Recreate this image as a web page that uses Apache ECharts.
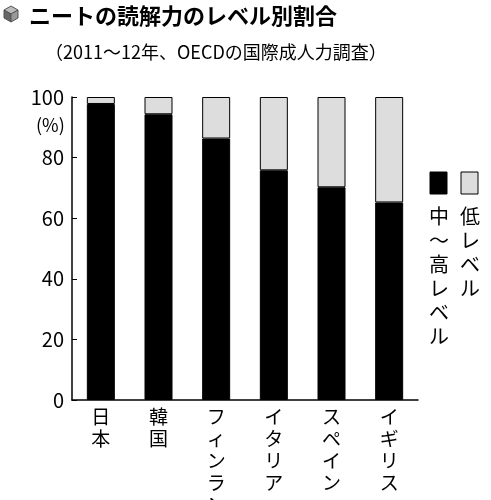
<!DOCTYPE html>
<html><head><meta charset="utf-8">
<script src="https://cdn.jsdelivr.net/npm/echarts@6/dist/echarts.min.js"></script>
<style>body{margin:0;background:#fff}#c{width:491px;height:500px}</style></head>
<body><div id="c"></div>
<script>
const categories = ['日本','韓国','フィンランド','イタリア','スペイン','イギリス'];
const midHigh = [97.7, 94.3, 86.3, 75.8, 70.2, 65.2];
const low = midHigh.map(v => +(100 - v).toFixed(1));
const yTicks = [0,20,40,60,80,100];
const font = '"Noto Sans CJK JP", sans-serif';
const vert = s => s.split('').join('\n');
const chart = echarts.init(document.getElementById('c'));
chart.setOption({
  animation:false,
  textStyle:{fontFamily:font,color:'#000'},
  title:[
    {text:'ニートの読解力のレベル別割合',left:24,top:0,textStyle:{fontFamily:font,fontSize:22,fontWeight:'bold',color:'#000'}},
    {text:'（2011～12年、OECDの国際成人力調査）',left:40,top:38,textStyle:{fontFamily:font,fontSize:18,fontWeight:'normal',color:'#000'}}
  ],
  graphic:[
    {type:'polygon',shape:{points:[[4,10],[11,6],[18,10],[11,14]]},style:{fill:'#bbb',stroke:'#555'}},
    {type:'polygon',shape:{points:[[4,10],[11,14],[11,22],[4,18]]},style:{fill:'#666',stroke:'#555'}},
    {type:'polygon',shape:{points:[[18,10],[11,14],[11,22],[18,18]]},style:{fill:'#999',stroke:'#555'}},
    {type:'text',left:36,top:116,style:{text:'(%)',font:'18px '+font,fill:'#000'}},
    {type:'rect',shape:{x:430,y:172,width:17,height:22},style:{fill:'#000',stroke:'#000'}},
    {type:'rect',shape:{x:461,y:172,width:17,height:22},style:{fill:'#ddd',stroke:'#000'}},
    {type:'text',left:429,top:204,style:{text:vert('中～高レベル'),font:'20px '+font,fill:'#000',lineHeight:24}},
    {type:'text',left:460,top:204,style:{text:vert('低レベル'),font:'20px '+font,fill:'#000',lineHeight:24}}
  ],
  grid:{left:72,right:73,top:97,bottom:100,outerBoundsMode:'none',containLabel:false},
  xAxis:{type:'category',data:categories,axisLine:{lineStyle:{color:'#000',width:1.5}},axisTick:{show:false},
    axisLabel:{formatter:v=>vert(v),fontSize:19,lineHeight:22,color:'#000',verticalAlign:'top',margin:6,interval:0}},
  yAxis:{type:'value',min:0,max:100,interval:20,axisLine:{show:true,lineStyle:{color:'#000',width:1.5}},
    axisTick:{show:true,inside:true,length:5,lineStyle:{color:'#000'}},splitLine:{show:false},
    axisLabel:{fontSize:20,color:'#000',margin:8,formatter:v=>yTicks.includes(v)?String(v):''}},
  series:[
    {type:'bar',stack:'a',data:midHigh,barWidth:28,itemStyle:{color:'#000',borderColor:'#000',borderWidth:1}},
    {type:'bar',stack:'a',data:low,barWidth:28,itemStyle:{color:'#ddd',borderColor:'#000',borderWidth:1}}
  ]
});
</script></body></html>
